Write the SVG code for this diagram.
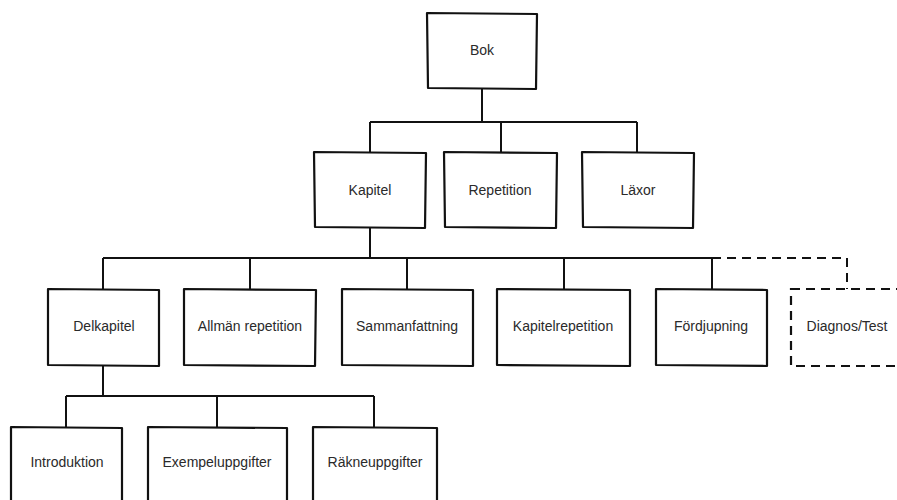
<svg xmlns="http://www.w3.org/2000/svg" width="897" height="500" viewBox="0 0 897 500">
  <style>
    .box { fill: #ffffff; stroke: #111; stroke-width: 2.2; stroke-linejoin: round; }
    .dash { fill: #ffffff; stroke: #111; stroke-width: 2.2; stroke-dasharray: 9 6; }
    .wire { fill: none; stroke: #111; stroke-width: 2; }
    .wire-dash { fill: none; stroke: #111; stroke-width: 2; stroke-dasharray: 9 6; }
    .label { font-family: "Liberation Sans", Arial, sans-serif; font-size: 14px; fill: #2a2a2a; text-anchor: middle; dominant-baseline: central; }
  </style>
  <rect width="897" height="500" fill="#ffffff"/>

  <!-- tree connectors -->
  <g id="connectors">
    <path class="wire" d="M482 89 V122 M370 122 H637 M370 122 V152 M501 122 V152 M637 122 V152"/>
    <path class="wire" d="M370 228 V258 M103 258 H712 M103 258 V289 M250 258 V289 M407 258 V289 M564 258 V289 M712 258 V289"/>
    <path class="wire-dash" d="M712 258 H847 V289"/>
    <path class="wire" d="M103 366 V396 M66 396 H374 M66 396 V427 M217 396 V427 M374 396 V427"/>
  </g>

  <g id="bok">
    <path class="box" d="M427 13 L537 14 L536 89 L428 88 Z"/>
    <text class="label" x="482" y="50">Bok</text>
  </g>

  <g id="kapitel">
    <path class="box" d="M314 152 L426 153 L425 228 L315 227 Z"/>
    <text class="label" x="370" y="190">Kapitel</text>
  </g>
  <g id="repetition">
    <path class="box" d="M444 152 L557 153 L556 228 L445 227 Z"/>
    <text class="label" x="500" y="190">Repetition</text>
  </g>
  <g id="laxor">
    <path class="box" d="M582 152 L694 153 L693 228 L583 227 Z"/>
    <text class="label" x="638" y="190">Läxor</text>
  </g>

  <g id="delkapitel">
    <path class="box" d="M48 289 L159 290 L159 366 L48 365 Z"/>
    <text class="label" x="104" y="326">Delkapitel</text>
  </g>
  <g id="allman-repetition">
    <path class="box" d="M184 289 L316 290 L315 366 L184 365 Z"/>
    <text class="label" x="250" y="326">Allmän repetition</text>
  </g>
  <g id="sammanfattning">
    <path class="box" d="M342 289 L473 290 L473 366 L342 365 Z"/>
    <text class="label" x="407" y="326">Sammanfattning</text>
  </g>
  <g id="kapitelrepetition">
    <path class="box" d="M497 289 L630 290 L630 366 L497 365 Z"/>
    <text class="label" x="563" y="326">Kapitelrepetition</text>
  </g>
  <g id="fordjupning">
    <path class="box" d="M656 289 L767 290 L767 366 L656 365 Z"/>
    <text class="label" x="711" y="326">Fördjupning</text>
  </g>
  <g id="diagnos-test">
    <path class="dash" d="M791 289 H902 V366 H791 Z"/>
    <text class="label" x="847" y="326">Diagnos/Test</text>
  </g>

  <g id="introduktion">
    <path class="box" d="M11 427 L122 428 L122 510 L11 510 Z"/>
    <text class="label" x="67" y="462">Introduktion</text>
  </g>
  <g id="exempeluppgifter">
    <path class="box" d="M148 427 L287 428 L287 510 L148 510 Z"/>
    <text class="label" x="217" y="462">Exempeluppgifter</text>
  </g>
  <g id="rakneuppgifter">
    <path class="box" d="M313 427 L437 428 L437 510 L313 510 Z"/>
    <text class="label" x="375" y="462">Räkneuppgifter</text>
  </g>
</svg>
